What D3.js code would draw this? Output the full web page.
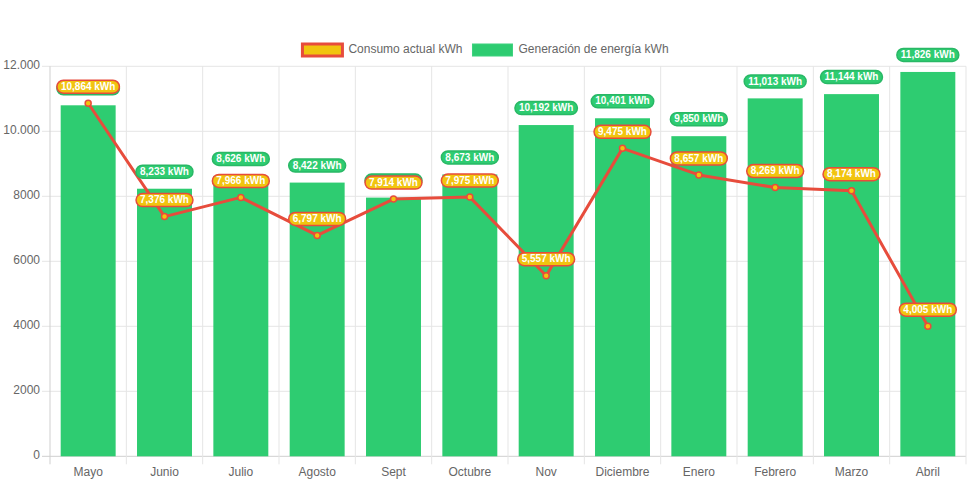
<!DOCTYPE html>
<html><head><meta charset="utf-8">
<script src="https://cdn.jsdelivr.net/npm/d3@7/dist/d3.min.js"></script>
<style>body{margin:0;background:#fff;}svg{display:block;font-family:"Liberation Sans",Arial,Helvetica,sans-serif;}</style>
</head><body>
<svg id="c" width="971" height="485"></svg>
<script>
const categories = ["Mayo","Junio","Julio","Agosto","Sept","Octubre","Nov","Diciembre","Enero","Febrero","Marzo","Abril"];
const generacion = [10800,8233,8626,8422,7960,8673,10192,10401,9850,11013,11144,11826];
const consumo = [10864,7376,7966,6797,7914,7975,5557,9475,8657,8269,8174,4005];
const yTicks = [0,2000,4000,6000,8000,10000,12000];
const seriesNames = ["Consumo actual kWh","Generación de energía kWh"];

const svg = d3.select("#c");
const L=50, R=966, T=66.3, B=456.3;
const x = d3.scaleBand().domain(categories).range([L,R]).paddingInner(0).paddingOuter(0);
const y = d3.scaleLinear().domain([0,12000]).range([B,T]);
const grid="#e5e5e5", axisC="#cfcfcf", txt="#666";
const fmtY = v => v>=10000 ? d3.format(",")(v).replace(/,/g,".") : String(v);
const fmtL = v => d3.format(",")(v)+" kWh";

// horizontal grid
const g = svg.append("g");
yTicks.forEach(t=>{
  g.append("line").attr("x1",L-8).attr("x2",R).attr("y1",y(t)).attr("y2",y(t))
   .attr("stroke", t===0?axisC:grid).attr("stroke-width",1);
  svg.append("text").attr("x",L-10).attr("y",y(t)).attr("text-anchor","end")
   .attr("dominant-baseline","middle").attr("font-size",12).attr("fill",txt).text(fmtY(t));
});
// vertical grid
categories.forEach((c,i)=>{
  const xx = x(c);
  g.append("line").attr("x1",xx).attr("x2",xx).attr("y1",T).attr("y2",B+8)
   .attr("stroke", i===0?axisC:grid).attr("stroke-width",1);
});
g.append("line").attr("x1",R).attr("x2",R).attr("y1",T).attr("y2",B+8).attr("stroke",grid);
// x labels
categories.forEach(c=>{
  svg.append("text").attr("x",x(c)+x.bandwidth()/2).attr("y",473).attr("text-anchor","middle")
   .attr("dominant-baseline","middle").attr("font-size",12).attr("fill",txt).text(c);
});

// bars
const bw = x.bandwidth()*0.72;
svg.append("g").selectAll("rect").data(generacion).join("rect")
  .attr("x",(d,i)=>x(categories[i])+(x.bandwidth()-bw)/2)
  .attr("width",bw).attr("y",d=>y(d)).attr("height",d=>B-y(d))
  .attr("fill","#2ecc71");

// line
const cx = i => x(categories[i])+x.bandwidth()/2;
const line = d3.line().x((d,i)=>cx(i)).y(d=>y(d));
svg.append("path").datum(consumo).attr("d",line).attr("fill","none")
  .attr("stroke","#e74c3c").attr("stroke-width",3).attr("stroke-linejoin","round");
svg.append("g").selectAll("circle").data(consumo).join("circle")
  .attr("cx",(d,i)=>cx(i)).attr("cy",d=>y(d)).attr("r",3)
  .attr("fill","#f1c40f").attr("stroke","#e74c3c").attr("stroke-width",1.5);

// labels
const H=13;
const genY = i => y(generacion[i])-17;
const conY = i => y(consumo[i])-16.5;
function label(xc, yc, text, fill, stroke, showText){
  const gg = svg.append("g");
  const t = gg.append("text").attr("x",xc).attr("y",yc+0.5).attr("text-anchor","middle")
    .attr("dominant-baseline","middle").attr("font-size",10).attr("font-weight","bold")
    .attr("fill","#fff").text(text);
  const w = t.node().getComputedTextLength()+8;
  gg.insert("rect","text").attr("x",xc-w/2).attr("y",yc-H/2).attr("width",w).attr("height",H)
    .attr("rx",6.5).attr("ry",6.5).attr("fill",fill)
    .attr("stroke",stroke).attr("stroke-width",1.5);
  if(!showText) t.remove();
}
generacion.forEach((d,i)=>{
  const hidden = Math.abs(genY(i)-conY(i)) < H; // fully covered by the consumo label
  label(cx(i), genY(i), fmtL(d), "#2ecc71", "#29b866", !hidden);
});
consumo.forEach((d,i)=>label(cx(i), conY(i), fmtL(d), "#f1c40f", "#e74c3c", true));

// legend
const lg = svg.append("g");
const fs=12, boxW=40;
const tmp = seriesNames.map(n=>{const t=lg.append("text").attr("font-size",fs).text(n);const w=t.node().getComputedTextLength();t.remove();return w;});
const itemW = tmp.map(w=>boxW+fs/2+w);
const total = itemW[0]+10+itemW[1];
let lx = 971/2 - total/2;
const ly = 50;
[["#f1c40f","#e74c3c",3],["#2ecc71","#3dd27e",1]].forEach((s,i)=>{
  lg.append("rect").attr("x",lx).attr("y",ly-6).attr("width",boxW).attr("height",12)
    .attr("fill",s[0]).attr("stroke",s[1]).attr("stroke-width",s[2]);
  lg.append("text").attr("x",lx+boxW+fs/2).attr("y",ly).attr("dominant-baseline","middle")
    .attr("font-size",fs).attr("fill",txt).text(seriesNames[i]);
  lx += itemW[i]+10;
});
</script>
</body></html>
